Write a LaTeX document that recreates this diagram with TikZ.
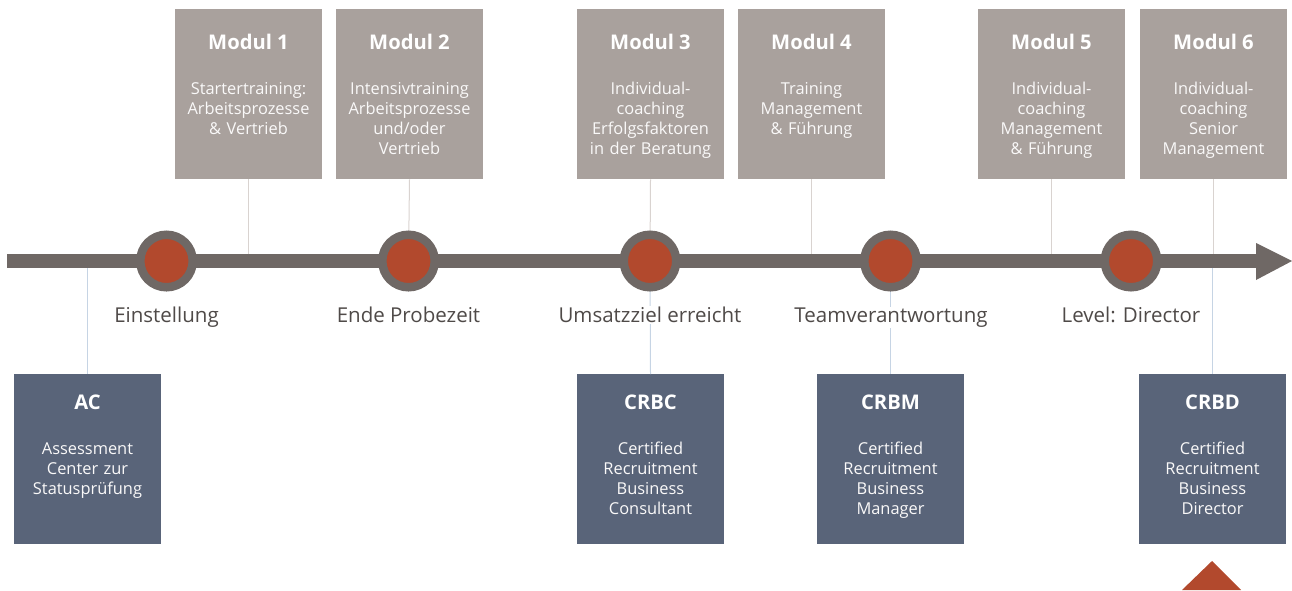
\documentclass[tikz,border=0pt]{standalone}
\usepackage{fontspec}
\setmainfont{Open Sans}
\definecolor{topbox}{HTML}{A9A19D}
\definecolor{botbox}{HTML}{596479}
\definecolor{barcol}{HTML}{6F6865}
\definecolor{redcol}{HTML}{B2492D}
\definecolor{labcol}{HTML}{4F4A48}
\definecolor{toplink}{HTML}{D9D3D0}
\definecolor{botlink}{HTML}{C6D4E4}
\tikzset{
  modbox/.style={rectangle, fill=topbox, minimum width=147pt, minimum height=170pt, inner sep=0pt, anchor=north},
  certbox/.style={rectangle, fill=botbox, minimum width=147pt, minimum height=170pt, inner sep=0pt, anchor=north},
  boxtitle/.style={anchor=base, inner sep=0pt, text=white, font=\fontsize{20.2}{24}\selectfont\bfseries},
  boxbody/.style={anchor=base, inner sep=0pt, text=white!94!topbox, text width=145pt, align=center, font=\fontsize{16.4}{20}\selectfont},
  milestone/.style={circle, draw=barcol, line width=8.5pt, fill=redcol, minimum size=52.5pt, inner sep=0pt},
  mslabel/.style={anchor=base, fill=white, inner sep=1pt, text=labcol, font=\fontsize{20.5}{24}\selectfont},
  uplink/.style={draw=toplink, line width=1pt},
  downlink/.style={draw=botlink, line width=1pt}
}
\begin{document}
\begin{tikzpicture}[x=1pt,y=-1pt]
\useasboundingbox (0,0) rectangle (1292,590);
% top boxes
\node[modbox] (m1) at (248.5,9) {};
\node[modbox] (m2) at (409.5,9) {};
\node[modbox] (m3) at (650.5,9) {};
\node[modbox] (m4) at (811.5,9) {};
\node[modbox] (m5) at (1051.5,9) {};
\node[modbox] (m6) at (1213.5,9) {};
% bottom boxes
\node[certbox] (ac) at (87.5,374) {};
\node[certbox] (crbc) at (650.5,374) {};
\node[certbox] (crbm) at (890.5,374) {};
\node[certbox] (crbd) at (1212.5,374) {};
% axis points
\coordinate (start) at (7,261);
\coordinate (shaft) at (1258,261);
\coordinate (tip) at (1292,261);
\coordinate (a1) at (248.5,261);
\coordinate (a4) at (811.5,261);
\coordinate (a5) at (1051.5,261);
\coordinate (a6) at (1213.5,261);
\coordinate (b1) at (87.5,261);
\coordinate (b4) at (1212.5,261);
% milestones (positions)
\coordinate (p1) at (166.5,261);
\coordinate (p2) at (408.5,261);
\coordinate (p3) at (650,261);
\coordinate (p4) at (890.5,261);
\coordinate (p5) at (1131,261);
% links
\draw[uplink] (m1.south) -- (a1);
\draw[uplink] (m2.south) -- (p2);
\draw[uplink] (m3.south) -- (p3);
\draw[uplink] (m4.south) -- (a4);
\draw[uplink] (m5.south) -- (a5);
\draw[uplink] (m6.south) -- (a6);
\draw[downlink] (b1) -- (ac.north);
\draw[downlink] (p3) -- (crbc.north);
\draw[downlink] (p4) -- (crbm.north);
\draw[downlink] (b4) -- (crbd.north);
% timeline
\draw[barcol, line width=14pt] (start) -- (shaft);
\fill[barcol] (1256,243) -- (tip) -- (1256,280) -- cycle;
\node[milestone] (c1) at (p1) {};
\node[milestone] (c2) at (p2) {};
\node[milestone] (c3) at (p3) {};
\node[milestone] (c4) at (p4) {};
\node[milestone] (c5) at (p5) {};
% milestone labels
\node[mslabel] (l1) at (166.5,322.5) {Einstellung};
\node[mslabel] (l2) at (408.5,322.5) {Ende Probezeit};
\node[mslabel] (l3) at (650,322.5) {Umsatzziel erreicht};
\node[mslabel] (l4) at (891,322.5) {Teamverantwortung};
\node[mslabel] (l5) at (1131,322.5) {Level: Director};
% top box texts
\node[boxtitle] (m1t) at ([yshift=-40.5pt]m1.north) {Modul 1};
\node[boxbody] (m1b) at ([yshift=-85.5pt]m1.north) {Startertraining:\\Arbeitsprozesse\\\& Vertrieb};
\node[boxtitle] (m2t) at ([yshift=-40.5pt]m2.north) {Modul 2};
\node[boxbody] (m2b) at ([yshift=-85.5pt]m2.north) {Intensivtraining\\Arbeitsprozesse\\und/oder\\Vertrieb};
\node[boxtitle] (m3t) at ([yshift=-40.5pt]m3.north) {Modul 3};
\node[boxbody] (m3b) at ([yshift=-85.5pt]m3.north) {Individual-\\coaching\\Erfolgsfaktoren\\in der Beratung};
\node[boxtitle] (m4t) at ([yshift=-40.5pt]m4.north) {Modul 4};
\node[boxbody] (m4b) at ([yshift=-85.5pt]m4.north) {Training\\Management\\\& Führung};
\node[boxtitle] (m5t) at ([yshift=-40.5pt]m5.north) {Modul 5};
\node[boxbody] (m5b) at ([yshift=-85.5pt]m5.north) {Individual-\\coaching\\Management\\\& Führung};
\node[boxtitle] (m6t) at ([yshift=-40.5pt]m6.north) {Modul 6};
\node[boxbody] (m6b) at ([yshift=-85.5pt]m6.north) {Individual-\\coaching\\Senior\\Management};
% bottom box texts
\node[boxtitle] (act) at ([yshift=-35pt]ac.north) {AC};
\node[boxbody] (acb) at ([yshift=-80.5pt]ac.north) {Assessment\\Center zur\\Statusprüfung};
\node[boxtitle] (crbct) at ([yshift=-35pt]crbc.north) {CRBC};
\node[boxbody] (crbcb) at ([yshift=-80.5pt]crbc.north) {Certified\\Recruitment\\Business\\Consultant};
\node[boxtitle] (crbmt) at ([yshift=-35pt]crbm.north) {CRBM};
\node[boxbody] (crbmb) at ([yshift=-80.5pt]crbm.north) {Certified\\Recruitment\\Business\\Manager};
\node[boxtitle] (crbdt) at ([yshift=-35pt]crbd.north) {CRBD};
\node[boxbody] (crbdb) at ([yshift=-80.5pt]crbd.north) {Certified\\Recruitment\\Business\\Director};
% bottom marker
\fill[redcol] (1182,590) -- (1212,561) -- (1241,590) -- cycle;
\end{tikzpicture}
\end{document}
